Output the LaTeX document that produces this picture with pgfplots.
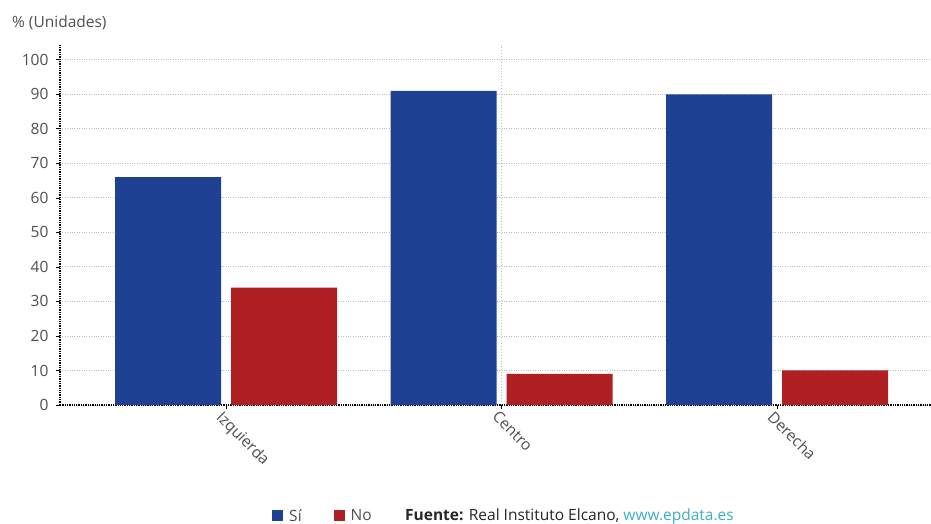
\documentclass[border=0pt]{standalone}
\usepackage{fontspec}
\setmainfont{Open Sans}
\usepackage{pgfplots}
\pgfplotsset{compat=1.18}
\definecolor{siblue}{RGB}{30,65,148}
\definecolor{nored}{RGB}{176,31,33}
\definecolor{txtgrey}{RGB}{80,80,80}
\definecolor{gridgrey}{RGB}{190,190,190}
\definecolor{linkcol}{RGB}{60,175,200}
\begin{document}
\begin{tikzpicture}[x=1pt,y=1pt]
\useasboundingbox[fill=white] (0,0) rectangle (931,524);
\begin{axis}[
  at={(60pt,119pt)}, anchor=south west,
  scale only axis, width=871pt, height=360pt,
  xmin=-0.603, xmax=2.559,
  ymin=0, ymax=104.3,
  ybar=10pt, bar width=106pt,
  xtick={0,1,2}, xticklabels={Izquierda,Centro,Derecha},
  ytick={0,10,...,100},
  font=\fontsize{15.5}{18}\selectfont,
  /pgf/number format/assume math mode=true,
  tick label style={text=txtgrey},
  xticklabel style={rotate=-45, anchor=north west, inner sep=2pt, xshift=-3pt},
  yticklabel style={xshift=-4pt},
  ymajorgrids, major grid style={gridgrey, dotted, line width=0.9pt},
  axis x line*=bottom, axis y line*=left,
  axis line style={black, densely dotted, line width=1.3pt, -},
  major tick style={black, line width=0.8pt},
  tick align=outside, major tick length=4pt,
  legend style={at={(0.2400,-0.308)}, anchor=west, draw=none, fill=none,
    font=\fontsize{15.5}{18}\selectfont, text=txtgrey,
    /tikz/every even column/.append style={column sep=30pt}},
  legend columns=2,
  legend image code/.code={\fill[#1,draw=none] (0pt,-5.5pt) rectangle (11pt,5.5pt);},
]
\draw[gridgrey, dotted, line width=0.9pt] (axis cs:1,0) -- (axis cs:1,104.3);
\addplot[fill=siblue, draw=none] coordinates {(0,66) (1,91) (2,90)};
\addplot[fill=nored, draw=none] coordinates {(0,34) (1,9) (2,10)};
\legend{\hspace{4pt}Sí, \hspace{4pt}No}
\end{axis}
\node[anchor=base west, text=txtgrey, inner sep=0pt, font=\fontsize{15.5}{18}\selectfont] at (12,496) {\% (Unidades)};
\node[anchor=base west, text=black!85, inner sep=0pt, font=\fontsize{15.5}{18}\selectfont] at (405,3) {\textbf{Fuente:} Real Instituto Elcano, \textcolor{linkcol}{www.epdata.es}};
\end{tikzpicture}
\end{document}
